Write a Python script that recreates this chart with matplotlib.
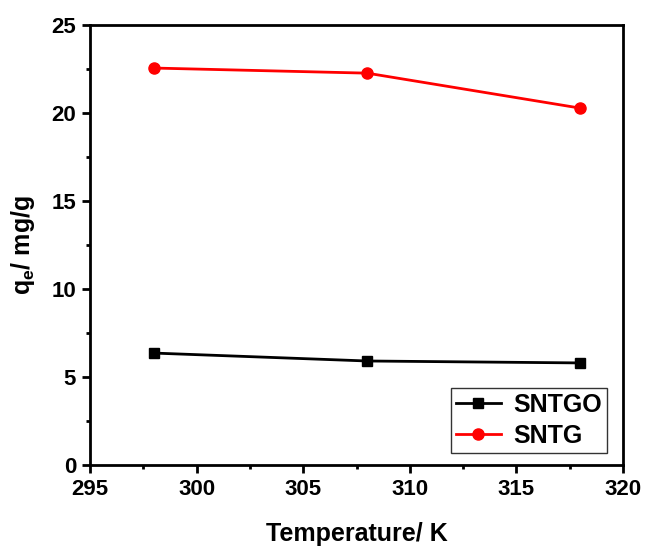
import matplotlib
matplotlib.use("Agg")
import matplotlib.pyplot as plt
from matplotlib.ticker import MultipleLocator

plt.rcParams['font.family'] = ['Liberation Sans', 'DejaVu Sans']
plt.rcParams['font.weight'] = 'bold'
plt.rcParams['mathtext.fontset'] = 'custom'
plt.rcParams['mathtext.bf'] = 'Liberation Sans:bold'
plt.rcParams['mathtext.rm'] = 'Liberation Sans:bold'

temperature = [298, 308, 318]
sntgo = [6.36, 5.91, 5.80]
sntg = [22.56, 22.27, 20.28]

fig = plt.figure(figsize=(6.45, 5.46), dpi=100)
ax = fig.add_axes([0.1395, 0.1484, 0.8265, 0.8056])

ax.plot(temperature, sntgo, color='black', marker='s', markersize=7, linewidth=2, label='SNTGO')
ax.plot(temperature, sntg, color='red', marker='o', markersize=8, linewidth=2, label='SNTG')

ax.set_xlim(295, 320)
ax.set_ylim(0, 25)
ax.xaxis.set_major_locator(MultipleLocator(5))
ax.xaxis.set_minor_locator(MultipleLocator(2.5))
ax.yaxis.set_major_locator(MultipleLocator(5))
ax.yaxis.set_minor_locator(MultipleLocator(2.5))

for s in ax.spines.values():
    s.set_linewidth(2)
ax.tick_params(which='major', direction='out', length=6, width=2, labelsize=16, pad=4)
ax.tick_params(which='minor', direction='out', length=3, width=2)
for lab in ax.get_xticklabels() + ax.get_yticklabels():
    lab.set_fontweight('bold')

ax.set_xlabel('Temperature/ K', fontsize=18, fontweight='bold')
ax.xaxis.set_label_coords(0.5, -0.13)
ax.set_ylabel(r'q$_\mathrm{e}$/ mg/g', fontsize=18, fontweight='bold')
ax.yaxis.set_label_coords(-0.10, 0.5)

leg = ax.legend(loc='lower right', fontsize=18, frameon=True, fancybox=False,
                edgecolor='black', handlelength=1.8, borderpad=0.2,
                labelspacing=0.3, handletextpad=0.5, borderaxespad=0,
                bbox_to_anchor=(0.970, 0.027))
leg.get_frame().set_linewidth(1)
for t in leg.get_texts():
    t.set_fontweight('bold')

fig.savefig('out.png', dpi=100)
